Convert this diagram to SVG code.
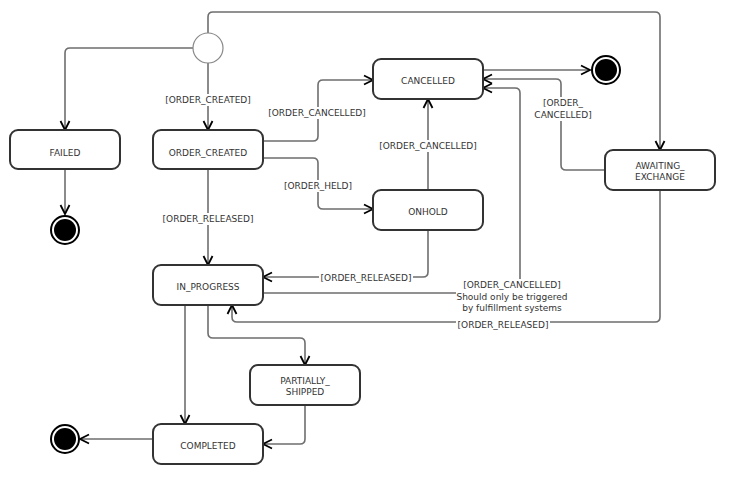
<svg xmlns="http://www.w3.org/2000/svg" width="735" height="484" viewBox="0 0 735 484">
<style>
.box{fill:#fff;stroke:#333;stroke-width:2}
.t{font-family:"DejaVu Sans",sans-serif;font-size:9px;fill:#333;text-anchor:middle;dominant-baseline:central}
.c{fill:none;stroke:#6e6e6e;stroke-width:1.6;marker-end:url(#arr)}
.lb{fill:#fff;stroke:none}
.endo{fill:#fff;stroke:#000;stroke-width:2}
.endi{fill:#000}
</style>
<defs>
<marker id="arr" markerUnits="userSpaceOnUse" markerWidth="12" markerHeight="12" refX="10" refY="5" orient="auto" viewBox="0 0 12 10">
<path d="M1,0.5 L10,5 L1,9.5" fill="none" stroke="#000" stroke-width="1.8"/>
</marker>
</defs>
<rect width="735" height="484" fill="#fff"/>
<g id="connectors">
<path class="c" d="M193,48 H70 Q65,48 65,53 V130"/>
<path class="c" d="M208,63 V130"/>
<path class="c" d="M208,33 V17 Q208,12 213,12 H655 Q660,12 660,17 V150"/>
<path class="c" d="M65,169 V214"/>
<path class="c" d="M263,141 H313 Q318,141 318,136 V85 Q318,80 323,80 H373"/>
<path class="c" d="M263,158 H313 Q318,158 318,163 V204 Q318,209 323,209 H373"/>
<path class="c" d="M208,169 V265"/>
<path class="c" d="M483,70 H590"/>
<path class="c" d="M605,170 H566 Q561,170 561,165 V84 Q561,79 556,79 H483"/>
<path class="c" d="M263,293 H515 Q520,293 520,288 V93 Q520,88 515,88 H483"/>
<path class="c" d="M428,190 V99"/>
<path class="c" d="M428,230 V272 Q428,277 423,277 H263"/>
<path class="c" d="M660,190 V317 Q660,322 655,322 H237 Q232,322 232,317 V305"/>
<path class="c" d="M185,305 V424"/>
<path class="c" d="M208,305 V333 Q208,338 213,338 H300 Q305,338 305,343 V365"/>
<path class="c" d="M305,405 V439 Q305,444 300,444 H263"/>
<path class="c" d="M153,439 H80"/>
</g>
<g id="labels">
<rect class="lb" x="163" y="94" width="90" height="12"/>
<text class="t" x="208" y="100">[ORDER_CREATED]</text>
<rect class="lb" x="266" y="107" width="102" height="12"/>
<text class="t" x="317" y="113">[ORDER_CANCELLED]</text>
<rect class="lb" x="283" y="180" width="70" height="12"/>
<text class="t" x="318" y="186">[ORDER_HELD]</text>
<rect class="lb" x="161" y="213" width="94" height="12"/>
<text class="t" x="208" y="219">[ORDER_RELEASED]</text>
<rect class="lb" x="377" y="140" width="102" height="12"/>
<text class="t" x="428" y="146">[ORDER_CANCELLED]</text>
<rect class="lb" x="534" y="97" width="58" height="24"/>
<text class="t" x="563" y="103">[ORDER_</text>
<text class="t" x="563" y="115">CANCELLED]</text>
<rect class="lb" x="319" y="272" width="94" height="12"/>
<text class="t" x="366" y="278">[ORDER_RELEASED]</text>
<rect class="lb" x="456" y="279" width="112" height="36"/>
<text class="t" x="512" y="285">[ORDER_CANCELLED]</text>
<text class="t" x="512" y="297">Should only be triggered</text>
<text class="t" x="512" y="308">by fulfillment systems</text>
<rect class="lb" x="456" y="319" width="94" height="12"/>
<text class="t" x="503" y="325">[ORDER_RELEASED]</text>
</g>
<g id="initial"><circle cx="208" cy="48" r="15" fill="#fff" stroke="#888" stroke-width="1.2"/></g>
<g id="failed"><rect class="box" x="10" y="130" width="110" height="39" rx="8"/><text class="t" x="65" y="153">FAILED</text></g>
<g id="order_created"><rect class="box" x="153" y="130" width="110" height="39" rx="8"/><text class="t" x="208" y="153">ORDER_CREATED</text></g>
<g id="cancelled"><rect class="box" x="373" y="59" width="110" height="40" rx="8"/><text class="t" x="428" y="81">CANCELLED</text></g>
<g id="onhold"><rect class="box" x="373" y="190" width="110" height="40" rx="8"/><text class="t" x="428" y="212">ONHOLD</text></g>
<g id="awaiting_exchange"><rect class="box" x="605" y="150" width="110" height="40" rx="8"/><text class="t" x="660" y="166">AWAITING_</text><text class="t" x="660" y="177">EXCHANGE</text></g>
<g id="in_progress"><rect class="box" x="153" y="265" width="110" height="40" rx="8"/><text class="t" x="208" y="287">IN_PROGRESS</text></g>
<g id="partially_shipped"><rect class="box" x="250" y="365" width="110" height="40" rx="8"/><text class="t" x="305" y="381">PARTIALLY_</text><text class="t" x="305" y="392">SHIPPED</text></g>
<g id="completed"><rect class="box" x="153" y="424" width="110" height="40" rx="8"/><text class="t" x="208" y="446">COMPLETED</text></g>
<g id="end_failed"><circle class="endo" cx="65" cy="230" r="14"/><circle class="endi" cx="65" cy="230" r="11"/></g>
<g id="end_cancelled"><circle class="endo" cx="606" cy="70" r="14"/><circle class="endi" cx="606" cy="70" r="11"/></g>
<g id="end_completed"><circle class="endo" cx="65" cy="439" r="14"/><circle class="endi" cx="65" cy="439" r="11"/></g>
</svg>
